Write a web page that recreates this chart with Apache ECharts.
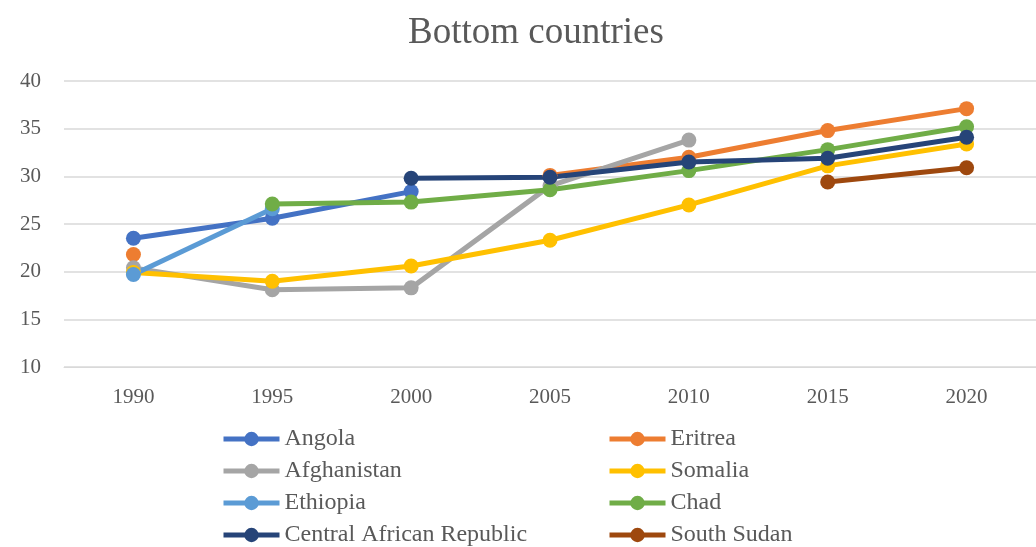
<!DOCTYPE html>
<html><head><meta charset="utf-8">
<script src="https://cdn.jsdelivr.net/npm/echarts@6/dist/echarts.min.js"></script>
<style>html,body{margin:0;padding:0;background:#fff}#c{width:1036px;height:547px}</style>
</head><body><div id="c"></div>
<script>
const years = ['1990','1995','2000','2005','2010','2015','2020'];
const angola = [23.5, 25.6, 28.4, null, null, null, null];
const eritrea = [21.8, null, null, 30.1, 32.0, 34.8, 37.1];
const afghanistan = [20.4, 18.1, 18.3, 29.0, 33.8, null, null];
const somalia = [19.9, 19.0, 20.6, 23.3, 27.0, 31.1, 33.4];
const ethiopia = [19.7, 26.6, null, null, null, null, null];
const chad = [null, 27.1, 27.3, 28.6, 30.6, 32.8, 35.2];
const car = [null, null, 29.8, 29.9, 31.5, 31.9, 34.1];
const southSudan = [null, null, null, null, null, 29.4, 30.9];
const yTicks = [10, 15, 20, 25, 30, 35, 40];

const defs = [
  ['Angola', angola, '#4472C4'],
  ['Eritrea', eritrea, '#ED7D31'],
  ['Afghanistan', afghanistan, '#A5A5A5'],
  ['Somalia', somalia, '#FFC000'],
  ['Ethiopia', ethiopia, '#5B9BD5'],
  ['Chad', chad, '#70AD47'],
  ['Central African Republic', car, '#264478'],
  ['South Sudan', southSudan, '#9E480E']
];
const font = 'Liberation Serif';
const chart = echarts.init(document.getElementById('c'));
function legendCfg(left, data) {
  return {
    orient: 'vertical', left: left, top: 427, height: 125, padding: 0, itemGap: 8,
    itemWidth: 56, itemHeight: 18, itemTextGap: 3, lineStyle: {width: 5},
    formatter: '{t|{name}}',
    textStyle: {fontFamily: font, fontSize: 24, color: '#595959',
      rich: {t: {fontFamily: font, fontSize: 24, color: '#595959'}}},
    selectedMode: false, data: data
  };
}
chart.setOption({
  animation: false,
  textStyle: {fontFamily: font},
  title: {text: 'Bottom countries', left: 403, top: 10,
    textStyle: {fontFamily: font, fontSize: 37, fontWeight: 'normal', color: '#595959'}},
  grid: {left: 64, right: -10, top: 81, bottom: 180},
  legend: [
    legendCfg(221, ['Angola','Afghanistan','Ethiopia','Central African Republic']),
    legendCfg(607, ['Eritrea','Somalia','Chad','South Sudan'])
  ],
  xAxis: {type: 'category', data: years, boundaryGap: true,
    axisLine: {lineStyle: {color: '#D9D9D9', width: 1}}, axisTick: {show: false},
    axisLabel: {fontFamily: font, fontSize: 21, color: '#595959', margin: 20}},
  yAxis: {type: 'value', min: yTicks[0], max: yTicks[yTicks.length-1], interval: 5,
    axisLine: {show: false}, axisTick: {show: false},
    splitLine: {lineStyle: {color: '#D9D9D9', width: 1.5}},
    axisLabel: {fontFamily: font, fontSize: 21, color: '#595959', margin: 23}},
  series: defs.map(([name, data, color]) => ({
    name, type: 'line', data, connectNulls: false,
    symbol: 'circle', symbolSize: 15,
    lineStyle: {color, width: 5}, itemStyle: {color},
    emphasis: {disabled: true}
  }))
});
</script></body></html>
